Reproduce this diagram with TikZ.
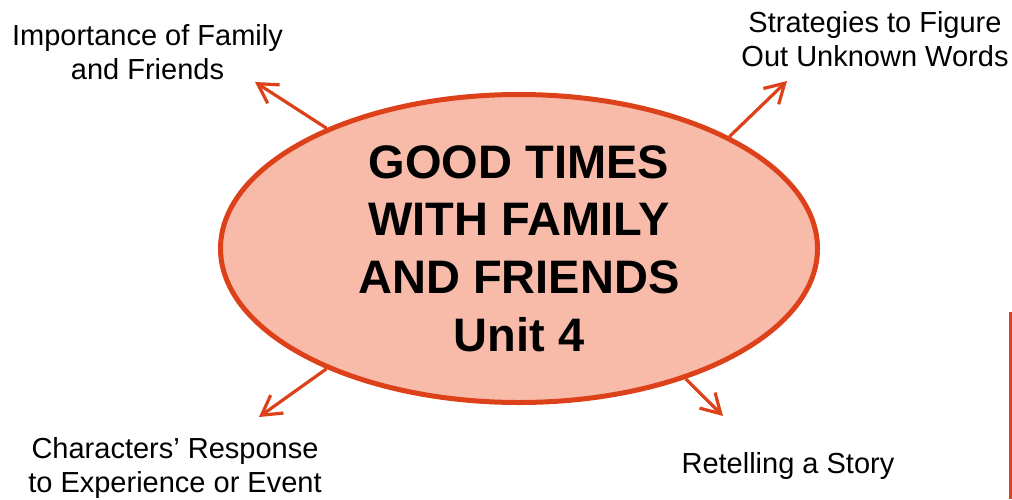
\documentclass[tikz,border=0pt]{standalone}
\usepackage{fontspec}
\setmainfont{Liberation Sans}
\usetikzlibrary{arrows.meta,shapes.geometric}
\definecolor{ored}{RGB}{220,65,25}
\definecolor{ofill}{RGB}{248,187,170}
\tikzset{
  hub/.style={ellipse, draw=ored, fill=ofill, line width=5pt, inner sep=0pt,
    minimum width=597pt, minimum height=308pt, align=center,
    font=\fontsize{47}{57.7}\selectfont\bfseries},
  lbl/.style={inner sep=0pt, align=center, font=\fontsize{29}{34}\selectfont},
  arr/.style={draw=ored, line width=3.2pt,
    -{Straight Barb[length=19pt,width=22pt,line width=3.2pt]}}
}
\begin{document}
\begin{tikzpicture}[x=1pt,y=-1pt]
\useasboundingbox (0,0) rectangle (1012,499);
\node[hub] (ell) at (519,248.5) {GOOD TIMES\\WITH FAMILY\\AND FRIENDS\\Unit 4};
\node[lbl] (imp) at (147.5,52.5) {Importance of Family\\and Friends};
\node[lbl] (str) at (875,39) {Strategies to Figure\\Out Unknown Words};
\node[lbl] (chr) at (175,467.5) {Characters’ Response\\to Experience or Event};
\node[lbl, anchor=base] (ret) at (788,473) {Retelling a Story};
\coordinate (t1) at (255,82);
\coordinate (t2) at (787,81);
\coordinate (t3) at (259,417);
\coordinate (t4) at (723,416);
\draw[arr] (ell.148.3) -- (t1);
\draw[arr] (ell.28.1) -- (t2);
\draw[arr] (ell.212.8) -- (t3);
\draw[arr] (ell.322.2) -- (t4);
\coordinate (v1) at (1010.5,312);
\coordinate (v2) at (1010.5,499);
\draw[ored, line width=3pt] (v1) -- (v2);
\end{tikzpicture}
\end{document}
